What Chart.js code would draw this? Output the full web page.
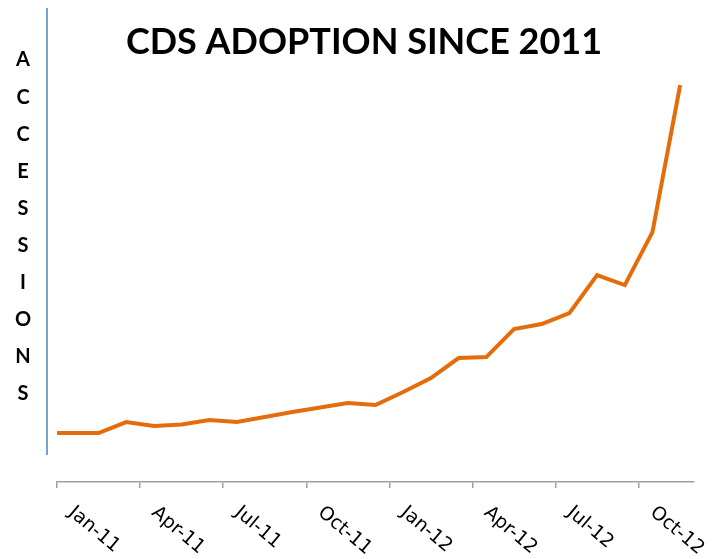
<!DOCTYPE html>
<html>
<head>
<meta charset="utf-8">
<title>CDS Adoption Since 2011</title>
<script src="https://cdn.jsdelivr.net/npm/chart.js@4.4.0/dist/chart.umd.min.js"></script>
<style>
    html, body { margin: 0; padding: 0; background: #fff; }
    #wrap { position: relative; width: 723px; height: 559px; }
</style>
</head>
<body>
<div id="wrap"><canvas id="chart1"></canvas></div>
<script>
/*===================================================================================*/
/*  data
/*===================================================================================*/
// month position of each reading, counted from 1 Jan 2011
var months = [0, 1.5, 2.5, 3.5, 4.5, 5.5, 6.5, 7.5, 8.5, 9.5, 10.5, 11.5,
              12.5, 13.5, 14.5, 15.5, 16.5, 17.5, 18.5, 19.5, 20.5, 21.5, 22.5];
var accessions = [490, 490, 600, 560, 575, 620, 600, 650, 700, 745, 790, 770,
                  900, 1040, 1240, 1250, 1530, 1580, 1690, 2070, 1970, 2500, 3970];
var tickMonths = [0, 3, 6, 9, 12, 15, 18, 21];
var tickLabels = ['Jan-11', 'Apr-11', 'Jul-11', 'Oct-11', 'Jan-12', 'Apr-12', 'Jul-12', 'Oct-12'];
var yTitle = 'ACCESSIONS';

var points = months.map(function(m, i) { return { x: m, y: accessions[i] }; });

/*===================================================================================*/
/*  extra drawing: split axis line, slanted tick labels, stacked axis title
/*===================================================================================*/
var decorations = {
    id: 'decorations',
    afterDraw: function(chart) {
        var ctx = chart.ctx;
        var xs = chart.scales.x;
        var area = chart.chartArea;

        // the blue value axis, set a little apart from the category axis
        ctx.save();
        ctx.strokeStyle = '#4f81bd';
        ctx.lineWidth = 1.5;
        ctx.beginPath();
        ctx.moveTo(area.left - 10, 8);
        ctx.lineTo(area.left - 10, area.bottom - 27);
        ctx.stroke();

        // tick labels running down to the right
        ctx.fillStyle = '#000';
        ctx.font = '19px "DejaVu Sans"';
        ctx.textAlign = 'left';
        ctx.textBaseline = 'top';
        xs.ticks.forEach(function(t) {
            var px = xs.getPixelForValue(t.value);
            ctx.save();
            ctx.translate(px + 20, xs.bottom + 15);
            ctx.rotate(40 * Math.PI / 180);
            ctx.fillText(t.label, 0, 0);
            ctx.restore();
        });

        // axis title, one letter under the other
        ctx.font = 'bold 20px Lato';
        ctx.textAlign = 'center';
        ctx.textBaseline = 'middle';
        yTitle.split('').forEach(function(ch, i) {
            ctx.fillText(ch, 23, 60 + i * 37.1);
        });
        ctx.restore();
    }
};

/*===================================================================================*/
/*  chart
/*===================================================================================*/
var ctx = document.getElementById('chart1');
var myChart = new Chart(ctx, {
    type: 'line',
    data: {
        datasets: [{
            label: 'Accessions',
            data: points,
            borderColor: '#e46c0a',
            backgroundColor: '#e46c0a',
            borderWidth: 4,
            pointRadius: 0,
            tension: 0,
            clip: false
        }]
    },
    options: {
        responsive: true,
        maintainAspectRatio: false,
        animation: false,
        layout: {
            padding: { left: 7, right: 2, top: 0, bottom: 71 }
        },
        plugins: {
            legend: { display: false },
            tooltip: { enabled: false },
            title: {
                display: true,
                text: 'CDS ADOPTION SINCE 2011',
                color: '#000',
                font: { family: 'Lato', size: 36, weight: 'bold' },
                padding: { top: 21, bottom: 6 }
            }
        },
        scales: {
            x: {
                type: 'linear',
                min: 0,
                max: 23,
                border: { display: true, color: '#a0a0a0', width: 1.5 },
                grid: {
                    display: true,
                    drawOnChartArea: false,
                    drawTicks: true,
                    tickLength: 6,
                    color: '#a0a0a0',
                    lineWidth: 1.5
                },
                ticks: {
                    display: false,
                    stepSize: 3,
                    includeBounds: false,
                    callback: function(value) {
                        return tickLabels[tickMonths.indexOf(value)];
                    }
                }
            },
            y: {
                min: 0,
                max: 4120,
                border: { display: false },
                grid: { display: false },
                ticks: { display: false },
                afterFit: function(scale) { scale.width = 50; }
            },
            y2: {
                position: 'right',
                border: { display: false },
                grid: { display: false },
                ticks: { display: false },
                afterFit: function(scale) { scale.width = 27; }
            }
        }
    },
    plugins: [decorations]
});
</script>
</body>
</html>
